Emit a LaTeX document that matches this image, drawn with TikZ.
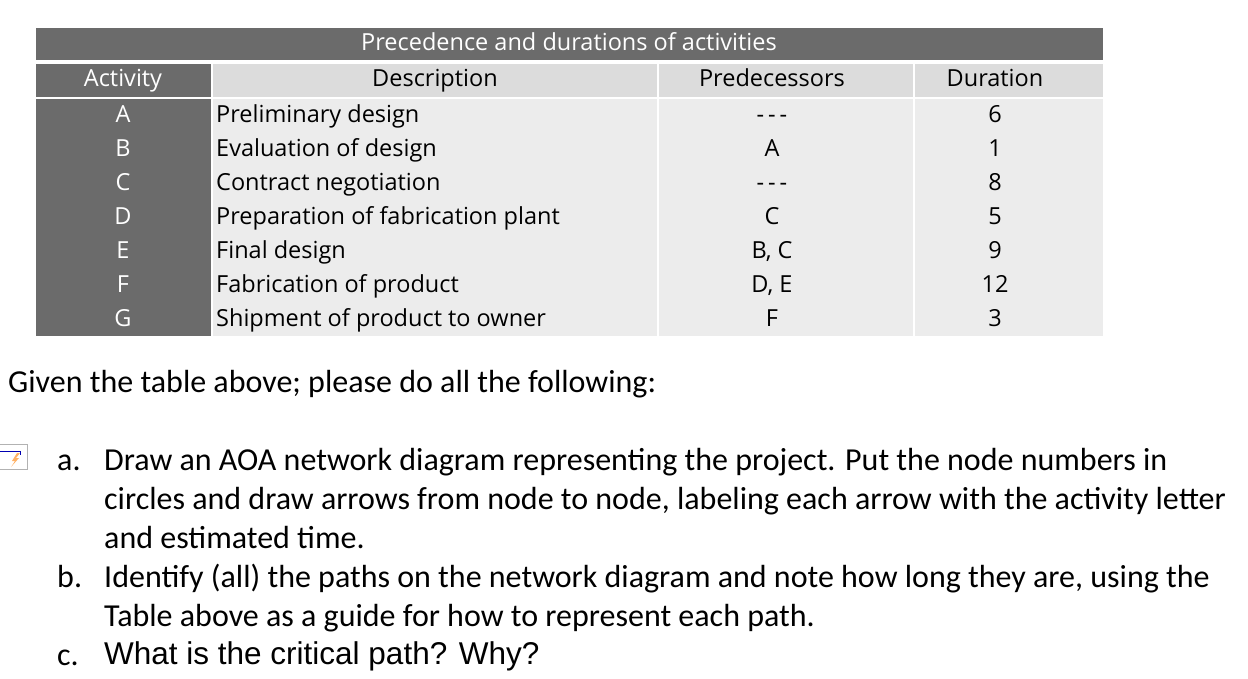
\documentclass[tikz,border=0pt]{standalone}
\usepackage{fontspec}
\setmainfont{Carlito}
\newfontfamily\tabfont{Open Sans}
\newfontfamily\arialf{Liberation Sans}
\definecolor{dk}{HTML}{6B6B6B}
\definecolor{lt}{HTML}{DCDCDC}
\definecolor{lt2}{HTML}{ECECEC}
\begin{document}
\begin{tikzpicture}[x=1pt,y=-1pt,
  cell/.style={inner sep=0pt,text height=17pt,text depth=5pt,font=\tabfont\fontsize{23.5}{24}\selectfont},
  wt/.style={cell,text=white},
  body/.style={anchor=west,inner sep=0pt,text height=22pt,text depth=7pt,font=\fontsize{32}{32}\selectfont}]
\useasboundingbox (0,0) rectangle (1248,678);
\fill[white] (0,0) rectangle (1248,678);
% header
\fill[dk] (36,28) rectangle (1103,60);
\node[wt] (title) at (569,44) {Precedence and durations of activities};
\fill[dk] (36,64) rectangle (211,97);
\fill[lt] (213,64) rectangle (657,97);
\fill[lt] (659,64) rectangle (913,97);
\fill[lt] (915,64) rectangle (1103,97);
\node[wt] (hA) at (123,80) {Activity};
\node[cell] (hD) at (435,80) {Description};
\node[cell] (hP) at (772,80) {Predecessors};
\node[cell] (hU) at (995,80) {Duration};
\fill[dk] (36,99) rectangle (211,336);
\fill[lt2] (213,99) rectangle (657,336);
\fill[lt2] (659,99) rectangle (913,336);
\fill[lt2] (915,99) rectangle (1103,336);
\foreach \a/\d/\p/\u [count=\i from 0] in {A/Preliminary design/{-\,-\,-}/6,B/Evaluation of design/A/1,C/Contract negotiation/{-\,-\,-}/8,D/Preparation of fabrication plant/C/5,E/Final design/{B, C}/9,F/Fabrication of product/{D, E}/12,G/Shipment of product to owner/F/3}{
  \pgfmathsetmacro\yy{116+\i*34}
  \node[wt] (a\i) at (123,\yy) {\a};
  \node[cell,anchor=west] (d\i) at (216,\yy) {\d};
  \node[cell] (p\i) at (772,\yy) {\p};
  \node[cell] (u\i) at (995,\yy) {\u};
}
% body text
\node[body] (given) at (8,385) {Given the table above; please do all the following:};
\node[body] (la) at (57,463) {a.};
\node[body] (ta1) at (104,463) {Draw an AOA network diagram representing the project. Put the node numbers in};
\node[body] (ta2) at (104,502) {circles and draw arrows from node to node, labeling each arrow with the activity letter};
\node[body] (ta3) at (104,541) {and estimated time.};
\node[body] (lb) at (57,580) {b.};
\node[body] (tb1) at (104,580) {Identify (all) the paths on the network diagram and note how long they are, using the};
\node[body] (tb2) at (104,619) {Table above as a guide for how to represent each path.};
\node[body] (lc) at (57,658) {c.};
\node[body,font=\arialf\fontsize{31.5}{32}\selectfont] (tc) at (104,657) {What is the critical path? Why?};
% icon
\draw[gray!60,line width=0.8pt] (-1,444) rectangle (27,469);
\draw[blue!70!black,line width=0.8pt] (0,451) -- (20,451) -- (20,455);
\fill[orange!60] (17,453) -- (12,461) -- (15,461) -- (11,467) -- (19,458) -- (16,458) -- (20,453) -- cycle;
\end{tikzpicture}
\end{document}
